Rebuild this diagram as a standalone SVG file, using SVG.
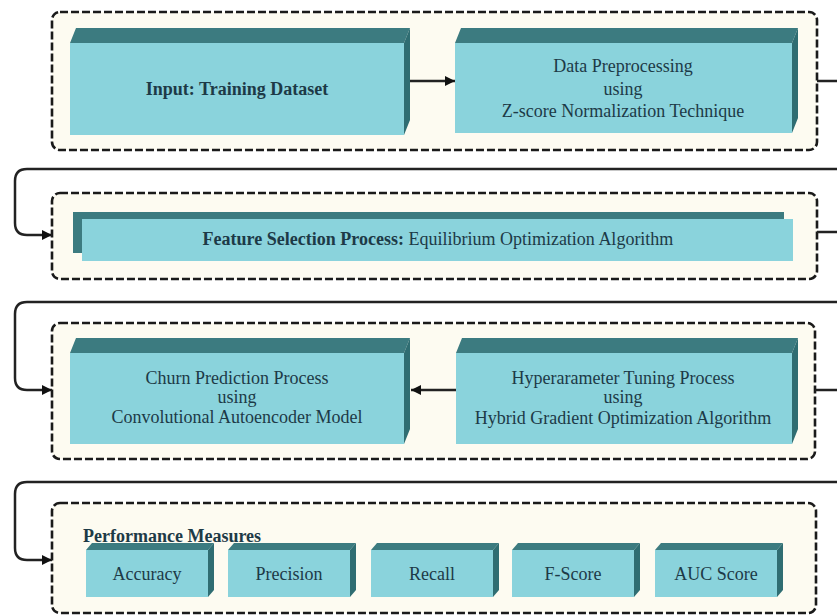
<svg xmlns="http://www.w3.org/2000/svg" width="837" height="615" viewBox="0 0 837 615">
<defs>
<style>
.panel{fill:#fdfbf1;stroke:#1a1a1a;stroke-width:2.6;stroke-dasharray:8 3}
.front{fill:#8ad3dc}
.top{fill:#3c7b80}
.side{fill:#2f6d72}
.t{font-family:"Liberation Serif","Times New Roman",serif;font-size:18px;fill:#1d3a47;text-anchor:middle}
.b{font-weight:bold}
.con{fill:none;stroke:#222;stroke-width:2.5}
</style>
<marker id="ah" viewBox="0 0 10 10" refX="10" refY="5" markerUnits="userSpaceOnUse" markerWidth="11" markerHeight="10" orient="auto">
<path d="M0,0 L10,5 L0,10 z" fill="#111"/>
</marker>
</defs>
<rect width="837" height="615" fill="#ffffff"/>

<g id="panels">
<rect class="panel" x="52" y="12" width="765" height="138" rx="8"/>
<rect class="panel" x="52" y="193" width="765" height="86" rx="8"/>
<rect class="panel" x="52" y="323" width="763" height="136" rx="8"/>
<rect class="panel" x="52" y="503" width="764" height="110" rx="8"/>
</g>

<g id="connectors">
<path class="con" d="M410,81 H455" marker-end="url(#ah)"/>
<path class="con" d="M817,81 H845 V169 H27 Q15,169 15,181 V223 Q15,235 27,235 H52" marker-end="url(#ah)"/>
<path class="con" d="M817,232 H845 V302 H27 Q15,302 15,314 V378 Q15,390 27,390 H52" marker-end="url(#ah)"/>
<path class="con" d="M456,390 H411" marker-end="url(#ah)"/>
<path class="con" d="M815,390 H845 V482 H27 Q15,482 15,494 V548 Q15,560 27,560 H52" marker-end="url(#ah)"/>
</g>

<g id="input">
<polygon class="top" points="70,43 76,28 410,28 404,43"/>
<polygon class="side" points="404,43 410,28 410,120 404,135"/>
<rect class="front" x="70" y="43" width="334" height="92"/>
<text class="t b" x="237" y="95">Input: Training Dataset</text>
</g>

<g id="preprocessing">
<polygon class="top" points="455,43 461,28 798,28 792,43"/>
<polygon class="side" points="792,43 798,28 798,118 792,133"/>
<rect class="front" x="455" y="43" width="337" height="90"/>
<text class="t" x="623" y="72">Data Preprocessing</text>
<text class="t" x="623" y="94.5">using</text>
<text class="t" x="623" y="117">Z-score Normalization Technique</text>
</g>

<g id="feature-selection">
<rect class="top" x="73" y="212" width="711" height="41"/>
<rect class="front" x="82" y="219" width="711" height="42"/>
<text class="t" x="438" y="245"><tspan class="b">Feature Selection Process:</tspan> Equilibrium Optimization Algorithm</text>
</g>

<g id="churn-prediction">
<polygon class="top" points="70,353 76,338 410,338 404,353"/>
<polygon class="side" points="404,353 410,338 410,429 404,444"/>
<rect class="front" x="70" y="353" width="334" height="91"/>
<text class="t" x="237" y="384">Churn Prediction Process</text>
<text class="t" x="237" y="403">using</text>
<text class="t" x="237" y="423">Convolutional Autoencoder Model</text>
</g>

<g id="hyperparameter-tuning">
<polygon class="top" points="456,353 462,338 798,338 792,353"/>
<polygon class="side" points="792,353 798,338 798,429 792,444"/>
<rect class="front" x="456" y="353" width="336" height="91"/>
<text class="t" x="623" y="384">Hyperarameter Tuning Process</text>
<text class="t" x="623" y="403">using</text>
<text class="t" x="623" y="424">Hybrid Gradient Optimization Algorithm</text>
</g>

<g id="performance-measures">
<text class="t b" x="83" y="542" style="text-anchor:start">Performance Measures</text>
</g>

<g id="accuracy">
<polygon class="top" points="86,550 92,543 214,543 208,550"/>
<polygon class="side" points="208,550 214,543 214,590 208,597"/>
<rect class="front" x="86" y="550" width="122" height="47"/>
<text class="t" x="147" y="580">Accuracy</text>
</g>
<g id="precision">
<polygon class="top" points="228,550 234,543 356,543 350,550"/>
<polygon class="side" points="350,550 356,543 356,590 350,597"/>
<rect class="front" x="228" y="550" width="122" height="47"/>
<text class="t" x="289" y="580">Precision</text>
</g>
<g id="recall">
<polygon class="top" points="371,550 377,543 499,543 493,550"/>
<polygon class="side" points="493,550 499,543 499,590 493,597"/>
<rect class="front" x="371" y="550" width="122" height="47"/>
<text class="t" x="432" y="580">Recall</text>
</g>
<g id="f-score">
<polygon class="top" points="512,550 518,543 640,543 634,550"/>
<polygon class="side" points="634,550 640,543 640,590 634,597"/>
<rect class="front" x="512" y="550" width="122" height="47"/>
<text class="t" x="573" y="580">F-Score</text>
</g>
<g id="auc-score">
<polygon class="top" points="655,550 661,543 783,543 777,550"/>
<polygon class="side" points="777,550 783,543 783,590 777,597"/>
<rect class="front" x="655" y="550" width="122" height="47"/>
<text class="t" x="716" y="580">AUC Score</text>
</g>
</svg>
